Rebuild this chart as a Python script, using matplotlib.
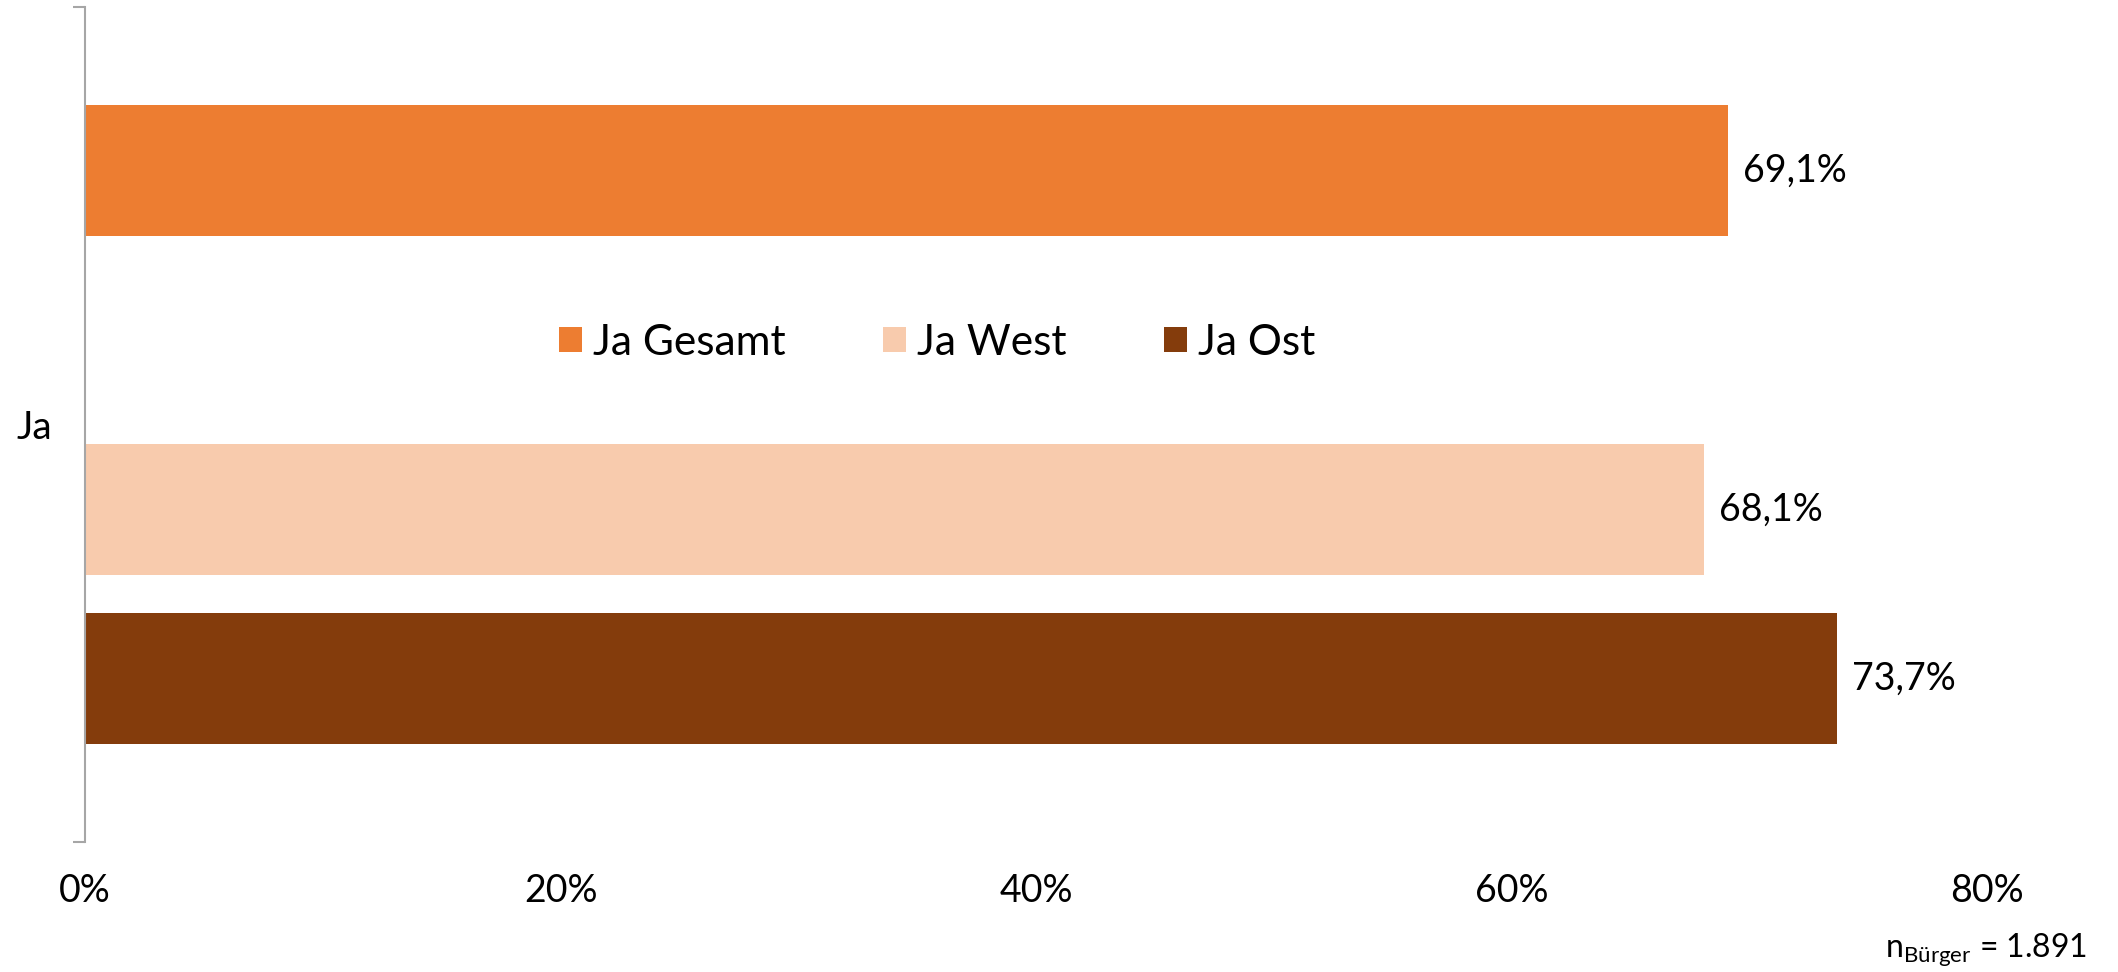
import matplotlib
matplotlib.use("Agg")
import matplotlib.pyplot as plt
import numpy as np

plt.rcParams['font.family'] = ['Lato', 'DejaVu Sans']
plt.rcParams['mathtext.fontset'] = 'custom'
plt.rcParams['mathtext.rm'] = 'Lato'

# data
category = 'Ja'
series = ['Ja Gesamt', 'Ja West', 'Ja Ost']
values = [69.1, 68.1, 73.7]
colors = ['#ED7D31', '#F8CBAD', '#843C0C']
x_ticks = [0, 20, 40, 60, 80]
n_text = r'n$_{\mathregular{Bürger}}$ = 1.891'

# slot 1 is left empty (legend sits there)
slots = [0, 2, 3]
bar_h = 0.773

fig = plt.figure(figsize=(21.18, 9.72), dpi=100)
ax = fig.add_axes([85/2118, 1 - 842/972, (1987 - 85)/2118, (842 - 7)/972])

for s, v, c, lab in zip(slots, values, colors, series):
    rect = ax.barh(s, v, height=bar_h, color=c, label=lab)
    ax.bar_label(rect, labels=[f'{v:.1f}%'.replace('.', ',')],
                 padding=11, fontsize=27)

ax.set_xlim(0, 80)
ax.set_ylim(3.963, -0.963)
ax.set_xticks(x_ticks, [f'{t}%' for t in x_ticks], fontsize=27)
ax.tick_params(axis='x', length=0, pad=22)

ax.set_yticks([1.5], [category], fontsize=28)
ax.set_yticks([3.963, -0.963], minor=True)
ax.tick_params(axis='y', which='major', length=0, pad=24)
ax.tick_params(axis='y', which='minor', length=9, width=1.5, color='#A6A6A6')

for sp in ['top', 'right', 'bottom']:
    ax.spines[sp].set_visible(False)
ax.spines['left'].set_color('#A6A6A6')
ax.spines['left'].set_linewidth(1.5)

ax.legend(loc='center', bbox_to_anchor=(0.448, 0.598), ncol=3, frameon=False,
          fontsize=30.5, handlelength=0.55, handleheight=0.55,
          handletextpad=0.26, columnspacing=2.3)

fig.text(2087/2118, 1 - 958/972, n_text, ha='right', va='baseline', fontsize=23)

fig.savefig('out.png', dpi=100)
